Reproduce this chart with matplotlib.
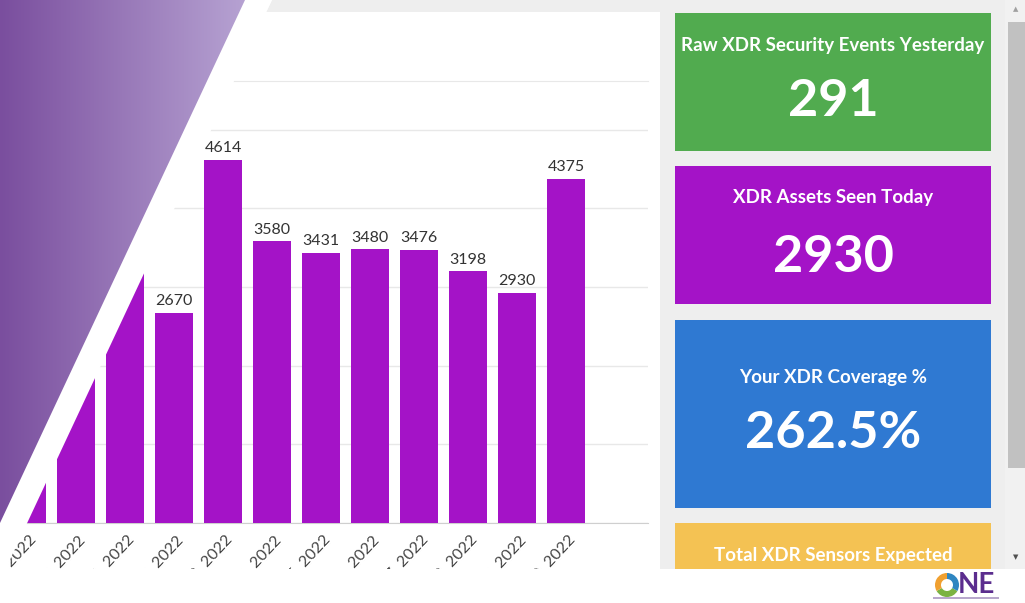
import numpy as np
import matplotlib
matplotlib.use("Agg")
import matplotlib.pyplot as plt
from matplotlib.patches import Polygon, Rectangle, Wedge
from matplotlib.transforms import ScaledTranslation

plt.rcParams['font.family'] = ['Lato', 'DejaVu Sans']

# bar chart data (first three bars are mostly hidden behind the banner)
dates = ["Nov 19, 2022", "Nov 20, 2022", "Nov 21, 2022", "Nov 22, 2022",
         "Nov 23, 2022", "Nov 24, 2022", "Nov 25, 2022", "Nov 26, 2022",
         "Nov 27, 2022", "Nov 28, 2022", "Nov 29, 2022", "Nov 30, 2022"]
assets = [3200, 3400, 3600, 2670, 4614, 3580, 3431, 3480, 3476, 3198, 2930, 4375]

# KPI cards
card_titles = ["Raw XDR Security Events Yesterday", "XDR Assets Seen Today",
               "Your XDR Coverage %", "Total XDR Sensors Expected"]
card_values = ["291", "2930", "262.5%", ""]
card_colors = ["#51ab4f", "#a413c7", "#2f79d2", "#f4c253"]

W, H = 1025, 603
BAR = "#a413c7"

fig = plt.figure(figsize=(W / 100, H / 100), dpi=100, facecolor="white")

# ---- chart ----
ax = fig.add_axes([0, 80 / H, 648 / W, 442 / H], zorder=1)
x = np.arange(len(assets))
ax.bar(x, assets, width=0.78, color=BAR, zorder=3)
for xi, v in zip(x, assets):
    ax.text(xi, v + 60, str(v), ha="center", va="bottom", fontsize=11.5, color="#333333")
ax.set_xlim(-27 / 49, (648 - 27) / 49)
ax.set_ylim(0, 5620)
ax.set_yticks(range(0, 6000, 1000))
ax.grid(axis="y", color="#e8e8e8", lw=1, zorder=0)
ax.tick_params(axis="y", left=False, labelleft=False)
ax.tick_params(axis="x", length=0, pad=7.3)
ax.set_xticks(x)
ax.set_xticklabels(dates, rotation=47, ha="right", rotation_mode="anchor",
                   fontsize=11.5, color="#444444")
shift = ScaledTranslation(2 / 100, 0, fig.dpi_scale_trans)
for lab in ax.get_xticklabels():
    lab.set_transform(lab.get_transform() + shift)
for s in ["left", "right"]:
    ax.spines[s].set_visible(False)
ax.spines["top"].set_color("#e8e8e8")
ax.spines["bottom"].set_color("#cfcfcf")

# ---- overlay in pixel coordinates ----
ov = fig.add_axes([0, 0, 1, 1], zorder=5)
ov.set_xlim(0, W)
ov.set_ylim(H, 0)
ov.axis("off")
ov.patch.set_alpha(0)

# page background strips
ov.add_patch(Polygon([(272, 0), (660, 0), (660, 12), (266, 12)], color="#eeeeee", lw=0))
ov.add_patch(Rectangle((660, 0), 345, 569, color="#eeeeee", lw=0))

# diagonal banner
ov.add_patch(Polygon([(0, 0), (272, 0), (0, 581)], color="white", lw=0))
tri = Polygon([(0, 0), (245, 0), (0, 523)], color="none", lw=0)
ov.add_patch(tri)
grad = np.linspace(0, 1, 256)[None, :, None]
c0 = np.array([122, 78, 158]) / 255
c1 = np.array([182, 162, 210]) / 255
img = c0 + (c1 - c0) * grad
im = ov.imshow(np.repeat(img, 2, axis=0), extent=[0, 245, 523, 0], aspect="auto", zorder=2)
im.set_clip_path(tri)
ov.set_xlim(0, W)
ov.set_ylim(H, 0)

# cards
tops = [13, 166, 320, 523]
heights = [138, 138, 188, 80]
title_y = [46, 198, 377, 555]
value_y = [101, 258, 434, None]
for t, h, col, title, val, ty, vy in zip(tops, heights, card_colors, card_titles,
                                         card_values, title_y, value_y):
    ov.add_patch(Rectangle((675, t), 316, h, color=col, lw=0, zorder=3))
    ov.text(833, ty, title, ha="center", va="center", color="white",
            fontsize=13.5, fontweight="bold", zorder=4)
    if vy is not None:
        ov.text(833, vy, val, ha="center", va="center", color="white",
                fontsize=37.5, fontweight="bold", zorder=4)

# scrollbar
ov.add_patch(Rectangle((1005, 0), 20, 569, color="#f1f1f1", lw=0, zorder=3))
ov.add_patch(Rectangle((1008, 22), 17, 446, color="#c1c1c1", lw=0, zorder=4))
ov.text(1016, 9, "\u25b2", ha="center", va="center", fontsize=5, color="#a0a0a0",
        family="DejaVu Sans", zorder=4)
ov.text(1016, 557, "\u25bc", ha="center", va="center", fontsize=5, color="#505050",
        family="DejaVu Sans", zorder=4)

# bottom strip with logo (the dashboard view ends here)
ov.add_patch(Rectangle((0, 569), W, 34, color="white", lw=0, zorder=6))
for a0, a1, col in [(30, 150, "#7bb342"), (150, 270, "#f0a030"), (270, 390, "#2e86c1")]:
    ov.add_patch(Wedge((947, 585), 12, a0, a1, width=6, color=col, lw=0, zorder=7))
ov.text(958, 585, "NE", ha="left", va="center", fontsize=20, fontweight="bold",
        color="#5b2d8e", zorder=7)
ov.add_patch(Rectangle((933, 597), 66, 2, color="#b8a8cc", lw=0, zorder=7))

fig.savefig("out.png", dpi=100, facecolor="white")
